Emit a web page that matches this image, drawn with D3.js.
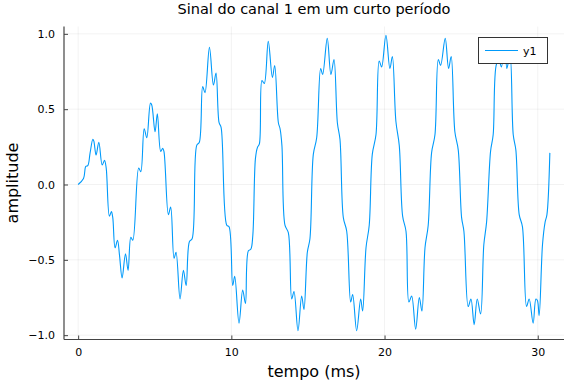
<!DOCTYPE html>
<html>
<head>
<meta charset="utf-8">
<script src="https://cdn.jsdelivr.net/npm/d3@7"></script>
<style>
  html, body { margin: 0; padding: 0; background: #fff; }
  svg { display: block; font-family: "DejaVu Sans", sans-serif; }
</style>
</head>
<body>
<svg id="chart" width="576" height="384"></svg>
<script>
// ---- data ----
const tempo = [
  0, 0.35, 0.5, 0.63, 0.78, 0.96, 1.02, 1.17, 1.35, 1.57, 1.72, 1.83, 2.04, 2.17, 2.26, 2.41, 2.57, 2.70, 2.87, 3.09,
  3.26, 3.44, 3.57, 3.95, 4.09, 4.31, 4.48, 4.72, 4.8, 5.02, 5.17, 5.39, 5.52, 5.6, 5.89, 6.04, 6.26, 6.39, 6.65, 6.87,
  7.05, 7.26, 7.44, 7.74, 7.91, 8.13, 8.28, 8.57, 8.83, 9.0, 9.2, 9.33, 9.70, 9.85, 10.09, 10.22, 10.50, 10.74, 10.92, 11.11,
  11.27, 11.4, 11.57, 11.70, 11.83, 12.0, 12.15, 12.41, 12.68, 12.83, 13.07, 13.18, 13.3, 13.5, 13.72, 13.94, 14.09, 14.35, 14.59, 14.74,
  14.96, 15.13, 15.35, 15.57, 15.83, 15.96, 16.26, 16.50, 16.70, 16.92, 17.09, 17.31, 17.53, 17.79, 17.92, 18.18, 18.44, 18.57, 18.79, 19.0,
  19.2, 19.44, 19.65, 19.81, 20.09, 20.35, 20.51, 20.74, 20.96, 21.18, 21.40, 21.59, 21.77, 22.03, 22.27, 22.44, 22.64, 22.85, 23.07, 23.29,
  23.51, 23.66, 23.96, 24.18, 24.35, 24.59, 24.81, 25.03, 25.18, 25.46, 25.64, 25.85, 26.05, 26.27, 26.48, 26.66, 26.92, 27.09, 27.31, 27.48,
  27.63, 27.85, 27.98, 28.1, 28.2, 28.40, 28.57, 28.79, 29.0, 29.27, 29.44, 29.70, 29.88, 29.98, 30.09, 30.31, 30.48, 30.6, 30.79
];
const amplitude = [
  0, 0.04, 0.12, 0.125, 0.21, 0.30, 0.29, 0.196, 0.28, 0.13, 0.16, 0.11, -0.21, -0.18, -0.22, -0.42, -0.37, -0.47, -0.62, -0.46,
  -0.57, -0.35, -0.37, 0.11, 0.085, 0.37, 0.31, 0.54, 0.53, 0.35, 0.47, 0.22, 0.24, 0.22, -0.20, -0.15, -0.49, -0.45, -0.76, -0.57,
  -0.67, -0.38, -0.36, 0.26, 0.28, 0.65, 0.61, 0.91, 0.66, 0.74, 0.41, 0.38, -0.27, -0.28, -0.67, -0.61, -0.92, -0.70, -0.79, -0.44,
  -0.43, -0.34, 0.17, 0.245, 0.27, 0.69, 0.67, 0.95, 0.71, 0.79, 0.41, 0.37, 0.26, -0.27, -0.32, -0.76, -0.71, -0.97, -0.74, -0.83,
  -0.45, -0.36, 0.20, 0.31, 0.77, 0.73, 0.97, 0.73, 0.83, 0.41, 0.30, -0.22, -0.31, -0.78, -0.73, -0.97, -0.76, -0.84, -0.42, -0.27,
  0.20, 0.33, 0.82, 0.78, 0.99, 0.77, 0.85, 0.42, 0.26, -0.21, -0.31, -0.78, -0.74, -0.96, -0.75, -0.84, -0.42, -0.27, 0.21, 0.33,
  0.83, 0.79, 0.97, 0.77, 0.85, 0.35, 0.23, -0.22, -0.31, -0.81, -0.76, -0.93, -0.76, -0.86, -0.40, -0.25, 0.22, 0.33, 0.80, 0.82,
  0.78, 0.97, 0.77, 0.82, 0.85, 0.33, 0.23, -0.20, -0.28, -0.81, -0.76, -0.92, -0.76, -0.77, -0.87, -0.40, -0.25, -0.20, 0.21
];
const xTicks = [0, 10, 20, 30];
const yTicks = [-1.0, -0.5, 0.0, 0.5, 1.0];
const seriesName = "y1";
const titleText = "Sinal do canal 1 em um curto período";
const xLabel = "tempo (ms)";
const yLabel = "amplitude";

// ---- layout ----
const W = 576, H = 384;
const plot = { left: 64, right: 564, top: 26.5, bottom: 339.5 };
const lineColor = "#009AFA";
const axisColor = "#444";

const svg = d3.select("#chart");

function padded(ext) {
  const p = (ext[1] - ext[0]) * 0.03;
  return [ext[0] - p, ext[1] + p];
}
const x = d3.scaleLinear().domain(padded(d3.extent(tempo))).range([plot.left, plot.right]);
const y = d3.scaleLinear().domain(padded(d3.extent(amplitude))).range([plot.bottom, plot.top]);

// grid
const grid = svg.append("g");
grid.selectAll("line.gx").data(xTicks).join("line")
  .attr("x1", d => x(d)).attr("x2", d => x(d))
  .attr("y1", plot.top).attr("y2", plot.bottom)
  .attr("stroke", "#000").attr("stroke-opacity", 0.1).attr("stroke-width", 0.5);
grid.selectAll("line.gy").data(yTicks).join("line")
  .attr("x1", plot.left).attr("x2", plot.right)
  .attr("y1", d => y(d)).attr("y2", d => y(d))
  .attr("stroke", "#000").attr("stroke-opacity", 0.1).attr("stroke-width", 0.5);

// axes
const fmtY = d => d3.format(".1f")(d).replace("-", "\u2212");
const xAxis = d3.axisBottom(x).tickValues(xTicks).tickSizeInner(-4).tickSizeOuter(0).tickPadding(9).tickFormat(d3.format("d"));
const yAxis = d3.axisLeft(y).tickValues(yTicks).tickSizeInner(-4).tickSizeOuter(0).tickPadding(9).tickFormat(fmtY);

const gx = svg.append("g").attr("transform", `translate(0,${plot.bottom})`).call(xAxis);
const gy = svg.append("g").attr("transform", `translate(${plot.left},0)`).call(yAxis);
[gx, gy].forEach(g => {
  g.select(".domain").remove();
  g.selectAll(".tick line").attr("stroke", axisColor).attr("stroke-width", 1);
  g.selectAll(".tick text").attr("fill", "#000").style("font-size", "11px").style("font-family", "DejaVu Sans, sans-serif");
});
svg.append("line").attr("x1", plot.left).attr("x2", plot.right).attr("y1", plot.bottom).attr("y2", plot.bottom)
  .attr("stroke", axisColor).attr("stroke-width", 1.2);
svg.append("line").attr("x1", plot.left).attr("x2", plot.left).attr("y1", plot.top).attr("y2", plot.bottom)
  .attr("stroke", axisColor).attr("stroke-width", 1.2);

// series
const pts = tempo.map((t, i) => [t, amplitude[i]]);
const line = d3.line().x(d => x(d[0])).y(d => y(d[1])).curve(d3.curveCatmullRom.alpha(0.5));
svg.append("path").datum(pts).attr("d", line)
  .attr("fill", "none").attr("stroke", lineColor).attr("stroke-width", 1.1).attr("stroke-linejoin", "round");

// title & labels
svg.append("text").attr("x", (plot.left + plot.right) / 2).attr("y", 14)
  .attr("text-anchor", "middle").style("font-size", "14.5px").attr("fill", "#000").text(titleText);
svg.append("text").attr("x", (plot.left + plot.right) / 2).attr("y", 377)
  .attr("text-anchor", "middle").style("font-size", "16px").attr("fill", "#000").text(xLabel);
svg.append("text").attr("transform", `translate(18,${(plot.top + plot.bottom) / 2}) rotate(-90)`)
  .attr("text-anchor", "middle").style("font-size", "16px").attr("fill", "#000").text(yLabel);

// legend
const lg = svg.append("g");
lg.append("rect").attr("x", 478.5).attr("y", 37.5).attr("width", 69).attr("height", 26)
  .attr("fill", "#fff").attr("stroke", "#333").attr("stroke-width", 1);
lg.append("line").attr("x1", 485).attr("x2", 518).attr("y1", 50.5).attr("y2", 50.5)
  .attr("stroke", lineColor).attr("stroke-width", 1.1);
lg.append("text").attr("x", 523).attr("y", 54.5).style("font-size", "11px").attr("fill", "#000").text(seriesName);
</script>
</body>
</html>
